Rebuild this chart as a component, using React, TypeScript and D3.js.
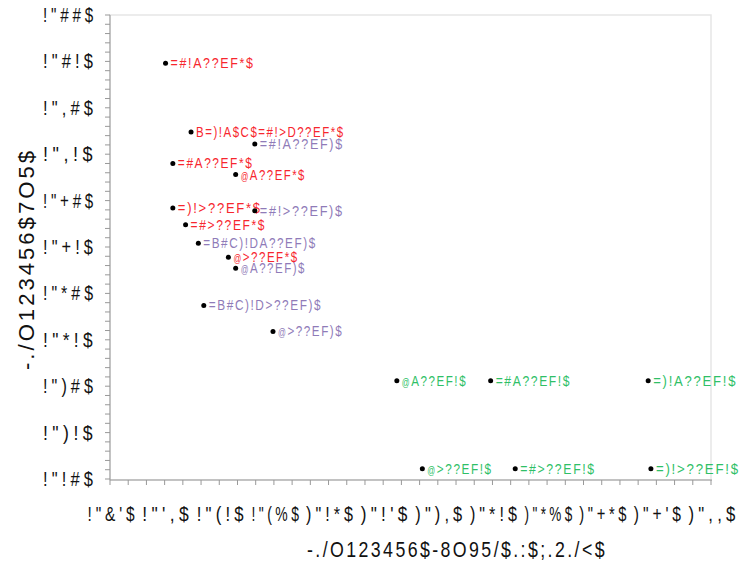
import React from "react";
import * as d3 from "d3";

const W = 741;
const H = 562;

const xTicks = [0.78, 0.84, 0.9, 0.96, 1.02, 1.08, 1.14, 1.2, 1.26, 1.32, 1.38, 1.44];
const xTickLabels = ['!"&\'$', '!"\',$', '!"(!$', '!"(%$', ')"!*$', ')"!\'$', ')"),$', ')"*!$', ')"*%$', ')"+*$', ')"+\'$', ')",,$'];
const yTicks = [0.55, 0.5, 0.45, 0.4, 0.35, 0.3, 0.25, 0.2, 0.15, 0.1, 0.05];
const yTickLabels = ['!"##$', '!"#!$', '!",#$', '!",!$', '!"+#$', '!"+!$', '!"*#$', '!"*!$', '!")#$', '!")!$', '!"!#$'];

const xTitle = "-./O123456$-8O95/$.:$;.2./<$";
const yTitle = "-./O123456$7O5$";

const groups = ["red", "purple", "green"];
const groupColors = ["#f7262e", "#8f7bb8", "#2fbf67"];

const pointLabels = [
  "=#!A??EF*$", "B=)!A$C$=#!>D??EF*$", "=#A??EF*$", "@A??EF*$", "=)!>??EF*$", "=#>??EF*$", "@>??EF*$",
  "=#!A??EF)$", "=#!>??EF)$", "=B#C)!DA??EF)$", "@A??EF)$", "=B#C)!D>??EF)$", "@>??EF)$",
  "@A??EF!$", "=#A??EF!$", "=)!A??EF!$", "@>??EF!$", "=#>??EF!$", "=)!>??EF!$",
];
const pointX = [
  0.841, 0.869, 0.849, 0.918, 0.849, 0.863, 0.910,
  0.939, 0.939, 0.877, 0.918, 0.883, 0.959,
  1.095, 1.198, 1.371, 1.123, 1.225, 1.374,
];
const pointY = [
  0.498, 0.424, 0.390, 0.378, 0.342, 0.324, 0.289,
  0.411, 0.339, 0.304, 0.277, 0.237, 0.209,
  0.156, 0.156, 0.156, 0.061, 0.061, 0.061,
];
const pointGroup = [0, 0, 0, 0, 0, 0, 0, 1, 1, 1, 1, 1, 1, 2, 2, 2, 2, 2, 2];

const FONT = "'Liberation Sans', Arial, sans-serif";

function labelWidth(s: string) {
  const chars = Array.from(s);
  let w = 0;
  chars.forEach((ch, i) => {
    if (ch === "@") w += 6.5;
    else if (ch === "$" && i < chars.length - 1) w += 5;
    else if ("BCD".includes(ch)) w += 7;
    else w += 8.4;
  });
  return w;
}

function renderLabel(s: string) {
  const parts: React.ReactNode[] = [];
  let buf = "";
  let key = 0;
  for (const ch of s) {
    if (ch === "@") {
      if (buf) parts.push(<tspan key={key++}>{buf}</tspan>);
      buf = "";
      parts.push(<tspan key={key++} fontSize="10">{ch}</tspan>);
    } else buf += ch;
  }
  if (buf) parts.push(<tspan key={key++}>{buf}</tspan>);
  return parts;
}

export default function App() {
  const left = 110, right = 711, top = 15, bottom = 480;
  const x = d3.scaleLinear().domain([0.78, 1.44]).range([left, right]);
  const y = d3.scaleLinear().domain([0.05, 0.55]).range([479, top]);
  const xMinor = d3.range(0.78, 1.4401, 0.02);
  const yMinor = d3.range(0.05, 0.5501, 0.01);

  return (
    <svg width={W} height={H} style={{ position: "absolute", left: 0, top: 0, background: "#fff" }} fontFamily={FONT}>
      <rect x={left} y={top} width={right - left} height={bottom - top} fill="none" stroke="#e6e6e6" strokeWidth={1.5} />
      {/* y axis */}
      <line x1={left} x2={left} y1={top} y2={bottom} stroke="#999" />
      {yMinor.map((v, i) => (
        <line key={i} x1={left - 5} x2={left} y1={y(v)} y2={y(v)} stroke="#999" />
      ))}
      {yTicks.map((v, i) => (
        <text key={i} x={97} y={y(v) + 7} textAnchor="end" fontSize={20} letterSpacing={5} textLength={54} lengthAdjust="spacingAndGlyphs" fill="#111">
          {yTickLabels[i]}
        </text>
      ))}
      {/* x axis */}
      <line x1={left} x2={right + 1} y1={bottom} y2={bottom} stroke="#999" />
      {xMinor.map((v, i) => (
        <line key={i} x1={x(v)} x2={x(v)} y1={bottom} y2={bottom + 5} stroke="#999" />
      ))}
      {xTicks.map((v, i) => (
        <text key={i} x={x(v) + 3} y={521} textAnchor="middle" fontSize={20} letterSpacing={5} textLength={51} lengthAdjust="spacingAndGlyphs" fill="#111">
          {xTickLabels[i]}
        </text>
      ))}
      <text x={457} y={557} textAnchor="middle" fontSize={22} letterSpacing={3} textLength={300} lengthAdjust="spacingAndGlyphs" fill="#111">{xTitle}</text>
      <text transform={`translate(34,259) rotate(-90)`} textAnchor="middle" fontSize={22} letterSpacing={3} textLength={222} lengthAdjust="spacingAndGlyphs" fill="#111">{yTitle}</text>
      {/* points */}
      {pointX.map((px, i) => (
        <g key={i}>
          <circle cx={x(px)} cy={y(pointY[i])} r={2.5} fill="#000" />
          <text x={x(px) + 5} y={y(pointY[i]) + 5} fontSize={15} letterSpacing={2} textLength={labelWidth(pointLabels[i])} lengthAdjust="spacingAndGlyphs" fill={groupColors[pointGroup[i]]}>
            {renderLabel(pointLabels[i])}
          </text>
        </g>
      ))}
    </svg>
  );
}
